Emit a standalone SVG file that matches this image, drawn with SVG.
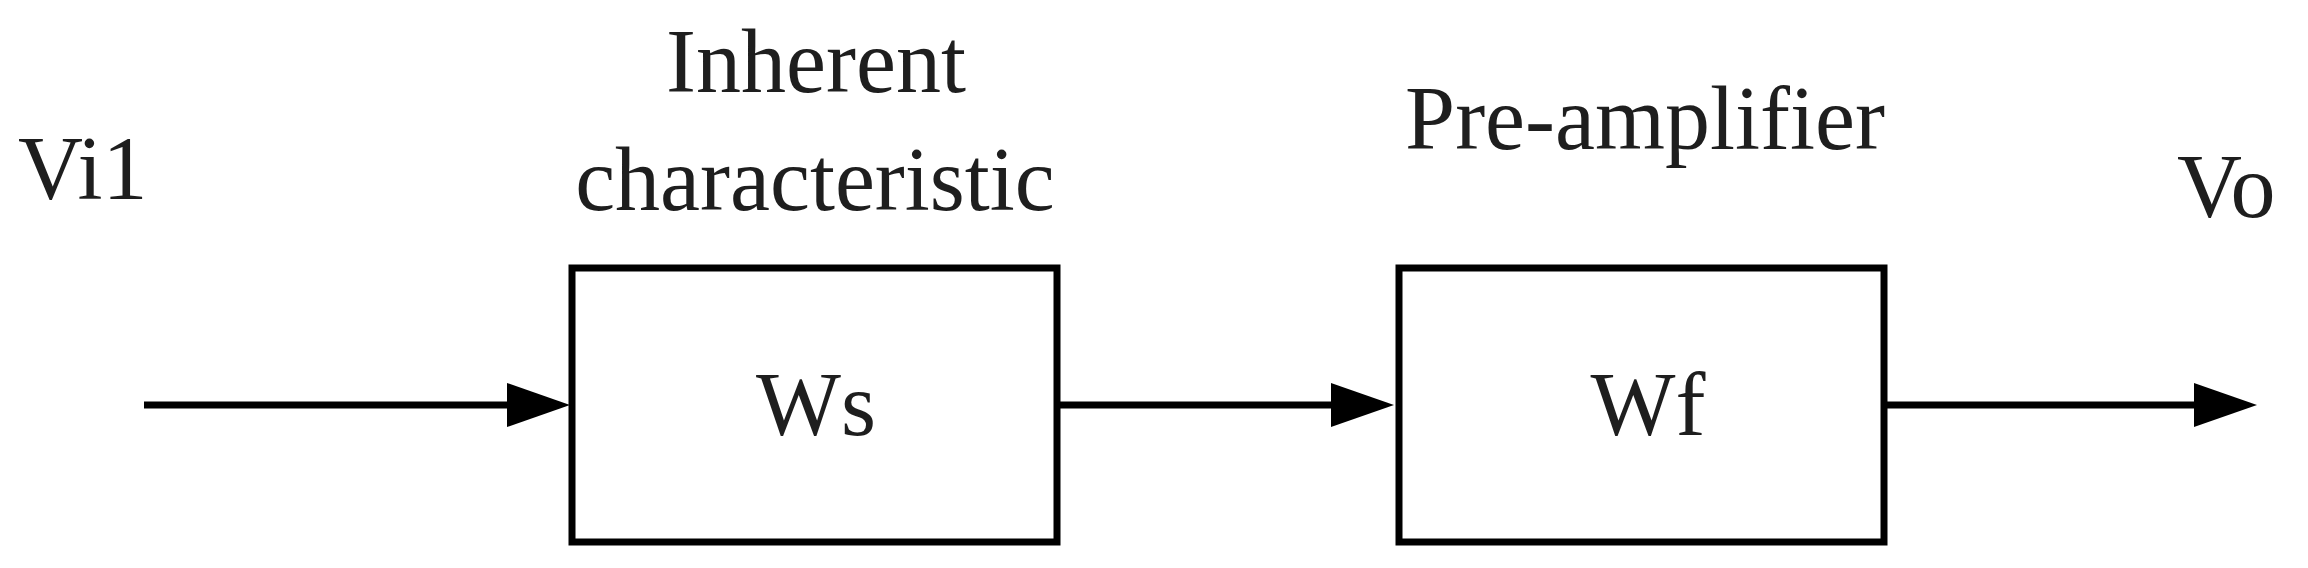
<svg xmlns="http://www.w3.org/2000/svg" width="2308" height="568" viewBox="0 0 2308 568">
<style>
.lbl{font-family:"Liberation Serif","Times New Roman",serif;font-size:90px;fill:#1e1e1e}
.box{fill:#ffffff;stroke:#000000;stroke-width:7}
.wire{stroke:#000000;stroke-width:7;fill:none}
</style>
<defs>
<marker id="ah" markerUnits="userSpaceOnUse" markerWidth="64" markerHeight="46" viewBox="0 0 64 46" refX="32" refY="23" orient="auto">
<path d="M0,1 L63,23 L0,45 Z" fill="#000000"/>
</marker>
</defs>
<rect width="2308" height="568" fill="#ffffff"/>
<g id="connectors">
<line class="wire" x1="144" y1="405" x2="539" y2="405" marker-end="url(#ah)"/>
<line class="wire" x1="1057" y1="405" x2="1363" y2="405" marker-end="url(#ah)"/>
<line class="wire" x1="1884" y1="405" x2="2226" y2="405" marker-end="url(#ah)"/>
</g>
<g id="input-label">
<text class="lbl" x="18" y="199">Vi1</text>
</g>
<g id="node-ws">
<rect class="box" x="572" y="268" width="485" height="274"/>
<text class="lbl" x="816" y="435" text-anchor="middle">Ws</text>
<text class="lbl" x="816" y="92" text-anchor="middle">Inherent</text>
<text class="lbl" x="815" y="210" text-anchor="middle">characteristic</text>
</g>
<g id="node-wf">
<rect class="box" x="1399" y="268" width="485" height="274"/>
<text class="lbl" x="1648" y="435" text-anchor="middle">Wf</text>
<text class="lbl" x="1645" y="149" text-anchor="middle">Pre-amplifier</text>
</g>
<g id="output-label">
<text class="lbl" x="2177" y="217">Vo</text>
</g>
</svg>
